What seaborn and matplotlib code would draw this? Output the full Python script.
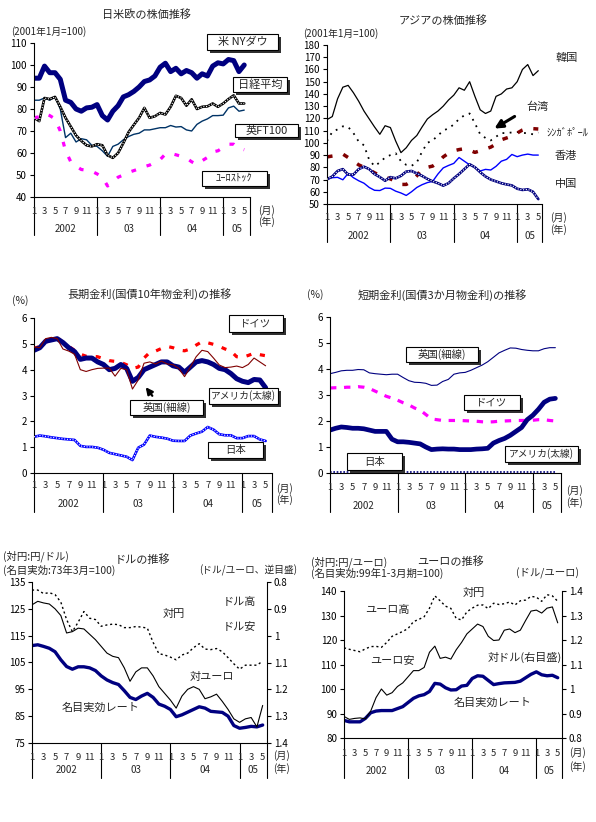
import numpy as np
import pandas as pd
import seaborn as sns
import matplotlib.pyplot as plt
import matplotlib.patches as mpatches

sns.set_style("white")
plt.rcParams['font.family'] = ['Noto Sans CJK JP', 'DejaVu Sans']
plt.rcParams['axes.unicode_minus'] = False

W, H = 596, 822
NAVY = '#000080'

# --- x axis: monthly, Jan 2002 = 0
months = list(range(41))
month_labels = ['1', '3', '5', '7', '9', '11']
month_labels_05 = ['1', '3', '5']
year_labels = ['2002', '03', '04', '05']

# --- stocks: US/Japan/Europe (2001/1 = 100)
dow = [94, 94, 99.5, 96.5, 96.5, 93.5, 84, 83, 80, 79, 80.5, 80.8, 82, 77, 75, 79, 81.5, 85.5,
       86.5, 88, 90, 92.5, 93.2, 95, 99, 100.8, 97, 98.5, 96, 97.5, 96.5, 94, 96, 95, 99.5,
       101, 100.5, 102.5, 102, 97, 100]
nikkei = [76, 74.5, 85, 84.5, 85.5, 81, 76, 72, 68, 65.5, 63.5, 63, 64, 63.5, 59, 57.8, 60, 64.5,
          69.5, 72.8, 76, 80.5, 76, 76.7, 78.2, 77.5, 81, 86, 85, 81.5, 84.4, 80, 81, 81.2, 82.5,
          81, 82.5, 84.5, 86.2, 82.5, 82.5]
ft100 = [84, 84, 85, 84, 85.5, 80, 67, 69, 65, 66.5, 66, 63.5, 63, 61, 58.5, 63, 64, 66, 67.5,
         68.5, 69, 70.5, 70.5, 71, 71.5, 71.5, 72.5, 71.8, 72, 70.5, 70, 73, 74.5, 75.5, 77, 77,
         77.2, 80.5, 81.3, 79, 79.5]
eurostoxx = [76, 76.5, 78, 77, 75.5, 70, 61, 56, 54, 52.5, 52.2, 51.7, 50.5, 49, 45, 47, 49, 50,
             51.2, 52, 52.8, 53.8, 54.5, 55.8, 57, 59.5, 59.8, 59.2, 58.5, 57.7, 56, 54.8, 56.5,
             58, 60.5, 61, 62.5, 64, 64, 62, 61.5]

# --- stocks: Asia (2001/1 = 100)
korea = [119, 121.5, 136, 145.5, 147, 141, 134, 126, 119.5, 113, 107, 114, 112.5, 101.5, 92, 96,
         102, 106, 113, 119.5, 123, 126, 130, 135, 139, 145, 143, 150, 138, 127, 124, 126, 138,
         140, 144, 145, 150, 160, 164, 155, 159]
taiwan = [101.5, 109, 111, 113.5, 113, 108, 101, 98, 86, 81, 84, 88, 90, 91.5, 85, 82, 81.2, 84,
          92.8, 100, 102, 106, 110, 111.9, 115, 119.5, 122.5, 124, 116, 107, 104, 102, 105, 108,
          108, 108.5, 108.8, 108.2, 107.8, 107, 108.5]
singapore = [88.5, 89.2, 89.8, 90.8, 88, 85, 82, 80, 78, 75.5, 73.5, 72, 70.5, 68.5, 66, 66, 68.5,
             73, 79, 80, 81, 84, 88.5, 91.5, 93.5, 94.5, 95.2, 94, 92.2, 93.5, 95, 96.5, 99,
             102.5, 104, 105.5, 108, 110.5, 112, 111.6, 111.3]
hongkong = [70.2, 71.5, 71.8, 69.8, 75, 71.5, 69, 67, 63.5, 61.2, 61, 63, 62.8, 60.5, 59, 57, 60,
            63.5, 65.8, 67.5, 68.5, 74.5, 79.5, 81.5, 83.2, 88, 85, 82, 80, 77, 78.3, 77.8, 80.8,
            85, 86.5, 90.5, 88.7, 90, 90.8, 90, 90]
china = [70.2, 72.5, 77, 78.5, 74, 74, 78.5, 80.5, 78.5, 74.5, 72, 69, 72, 71, 73, 76.5, 77, 75,
         73, 70.5, 68.5, 67, 65, 67, 71, 74.5, 78.5, 82.5, 80, 76, 72.5, 70, 68.5, 67, 66, 65.2,
         62.5, 61.5, 62, 60, 54]

# --- long-term rates (10y, %)
us_long = [4.75, 4.85, 5.1, 5.15, 5.2, 5.05, 4.85, 4.7, 4.4, 4.45, 4.45, 4.3, 4.2, 4.0, 4.05, 4.2,
           4.05, 3.55, 3.7, 4.0, 4.1, 4.2, 4.3, 4.3, 4.15, 4.1, 3.9, 4.1, 4.3, 4.35, 4.3, 4.2,
           4.05, 4.0, 3.85, 3.65, 3.55, 3.5, 3.62, 3.6, 3.3]
de_long = [4.82, 4.9, 5.05, 5.18, 5.25, 5.05, 4.9, 4.75, 4.6, 4.52, 4.52, 4.5, 4.42, 4.35, 4.32,
           4.28, 4.19, 4.05, 4.1, 4.45, 4.67, 4.72, 4.82, 4.9, 4.85, 4.76, 4.73, 4.8, 4.95, 5.08,
           5.04, 4.98, 4.9, 4.8, 4.72, 4.5, 4.48, 4.55, 4.64, 4.58, 4.54]
uk_long = [4.88, 4.85, 5.2, 5.25, 5.2, 4.8, 4.72, 4.6, 4.0, 3.93, 4.0, 4.05, 4.06, 4.06, 3.75,
           4.05, 4.0, 3.25, 3.6, 4.25, 4.3, 4.22, 4.33, 4.22, 4.19, 4.05, 3.73, 4.1, 4.5, 4.75,
           4.7, 4.45, 4.18, 4.08, 4.1, 4.14, 4.08, 4.2, 4.45, 4.3, 4.15]
jp_long = [1.4, 1.45, 1.42, 1.38, 1.35, 1.32, 1.3, 1.28, 1.05, 1.01, 1.01, 0.98, 0.9, 0.78, 0.73,
           0.68, 0.63, 0.5, 0.98, 1.1, 1.45, 1.4, 1.37, 1.33, 1.25, 1.24, 1.24, 1.45, 1.53, 1.6,
           1.78, 1.68, 1.5, 1.46, 1.46, 1.35, 1.35, 1.43, 1.43, 1.3, 1.24]

# --- short-term rates (3m, %)
uk_short = [3.82, 3.87, 3.93, 3.95, 3.95, 3.98, 3.97, 3.85, 3.82, 3.8, 3.78, 3.8, 3.8, 3.67, 3.55,
            3.49, 3.48, 3.45, 3.37, 3.38, 3.52, 3.6, 3.8, 3.85, 3.87, 3.95, 4.05, 4.15, 4.28,
            4.45, 4.62, 4.72, 4.81, 4.8, 4.75, 4.72, 4.7, 4.7, 4.78, 4.82, 4.82]
de_short = [3.27, 3.28, 3.28, 3.3, 3.3, 3.32, 3.3, 3.25, 3.15, 3.05, 2.95, 2.88, 2.8, 2.7, 2.62,
            2.5, 2.42, 2.25, 2.08, 2.05, 2.02, 2.02, 2.02, 2.02, 2.01, 2.0, 1.99, 1.97, 1.96,
            1.97, 1.99, 2.0, 2.01, 2.02, 2.02, 2.02, 2.03, 2.05, 2.05, 2.02, 2.0]
us_short = [1.65, 1.72, 1.77, 1.75, 1.72, 1.72, 1.7, 1.65, 1.6, 1.6, 1.6, 1.3, 1.2, 1.2, 1.18,
            1.15, 1.12, 1.0, 0.9, 0.92, 0.93, 0.92, 0.92, 0.9, 0.9, 0.9, 0.92, 0.93, 0.95, 1.15,
            1.25, 1.33, 1.45, 1.6, 1.75, 2.05, 2.22, 2.45, 2.72, 2.84, 2.87]
jp_short = [0.02, 0.02, 0.02, 0.02, 0.02, 0.02, 0.02, 0.02, 0.02, 0.02, 0.02, 0.02, 0.02, 0.02,
            0.02, 0.02, 0.02, 0.02, 0.02, 0.02, 0.02, 0.02, 0.02, 0.02, 0.02, 0.02, 0.02, 0.02,
            0.02, 0.02, 0.02, 0.02, 0.02, 0.02, 0.02, 0.02, 0.02, 0.02, 0.02, 0.02, 0.02]

# --- dollar
usd_jpy = [132, 132, 130.7, 131, 130.3, 127.5, 121, 116.5, 120, 124, 121.5, 121, 118.5, 119, 119.3,
           119.1, 118, 118, 118.4, 118.2, 117.8, 112.5, 108.3, 107.8, 107, 106, 107.8, 108.5,
           110.5, 112, 110, 109.8, 110.2, 109, 106.8, 104.5, 102.5, 104, 104, 104, 105.5]
usd_eur = [0.885, 0.872, 0.878, 0.882, 0.9, 0.925, 0.99, 0.985, 0.972, 0.975, 0.995, 1.015, 1.04,
           1.065, 1.077, 1.082, 1.12, 1.17, 1.135, 1.12, 1.12, 1.15, 1.19, 1.215, 1.24, 1.27,
           1.225, 1.2, 1.19, 1.2, 1.235, 1.228, 1.218, 1.245, 1.275, 1.31, 1.323, 1.31, 1.305,
           1.34, 1.26]
usd_neer = [111.3, 111.6, 111, 110.3, 109, 106, 103.5, 102.5, 103.4, 103.4, 103, 102, 100, 98.5,
            97.5, 96.8, 94.5, 92, 91.2, 92.5, 93.5, 92, 89.5, 88.7, 87.5, 84.8, 85.5, 86.5, 87.5,
            88.5, 88, 86.8, 86.6, 86.4, 85, 81.5, 80.5, 80.8, 81.2, 81, 81.7]

# --- euro
eur_jpy = [116.8, 116.2, 115.7, 115.2, 116.4, 117.3, 117.4, 117, 119, 121.5, 122.5, 123.5, 124.7,
           127.5, 128.4, 129.5, 133, 138, 136, 133.8, 132.9, 128.8, 128.2, 131.5, 133, 134.2,
           134.3, 132.8, 135, 134.5, 134.8, 135.5, 134.3, 136, 136.3, 137.8, 137.5, 135.8,
           138.5, 138, 135.8]
eur_usd = [0.888, 0.876, 0.88, 0.882, 0.878, 0.91, 0.965, 1.0, 0.975, 0.985, 1.01, 1.025, 1.05,
           1.075, 1.075, 1.088, 1.15, 1.175, 1.125, 1.13, 1.122, 1.16, 1.19, 1.225, 1.245, 1.265,
           1.255, 1.215, 1.198, 1.2, 1.24, 1.245, 1.23, 1.24, 1.28, 1.318, 1.322, 1.31, 1.33,
           1.335, 1.27]
eur_neer = [87.2, 86.6, 86.6, 86.6, 88, 90.3, 91, 91.2, 91.2, 91.2, 92, 92.8, 94.5, 96.2, 97.2,
            97.7, 99, 102.3, 102, 100.5, 99.6, 99.7, 101.2, 101.5, 104.3, 105.4, 105.2, 103.5,
            101.8, 102.2, 102.5, 102.6, 102.7, 103.2, 104.6, 106, 107, 105.8, 105.4, 105.6, 104.6]

right_ticks = [0.8, 0.9, 1.0, 1.1, 1.2, 1.3, 1.4]
right_tick_labels = ['0.8', '0.9', '1', '1.1', '1.2', '1.3', '1.4']

fig = plt.figure(figsize=(W / 100, H / 100), dpi=100)


def ftext(x, y, s, size=7, ha='left', va='center'):
    fig.text(x / W, 1 - y / H, s, fontsize=size, ha=ha, va=va, zorder=8)


def label_box(box, s, size=7.5):
    l, t, r, b = box
    sh = mpatches.Rectangle(((l + 3) / W, 1 - (b + 3) / H), (r - l) / W, (b - t) / H,
                            transform=fig.transFigure, fc='#303030', ec='none', zorder=5)
    bx = mpatches.Rectangle((l / W, 1 - b / H), (r - l) / W, (b - t) / H,
                            transform=fig.transFigure, fc='white', ec='black', lw=0.8, zorder=6)
    fig.add_artist(sh)
    fig.add_artist(bx)
    fig.text((l + r) / 2 / W, 1 - (t + b) / 2 / H, s, ha='center', va='center',
             fontsize=size, zorder=7)


def new_axes(box):
    l, t, r, b = box
    return fig.add_axes([l / W, 1 - b / H, (r - l) / W, (b - t) / H])


def style_axes(ax, xmax, ylim, yticks):
    ax.set_xlim(0, xmax)
    ax.set_ylim(*ylim)
    ax.set_yticks(yticks)
    ax.set_xticks([])
    ax.set_xlabel('')
    ax.set_ylabel('')
    sns.despine(ax=ax)
    for sp in ['left', 'bottom']:
        ax.spines[sp].set_color('black')
        ax.spines[sp].set_linewidth(0.8)
    ax.tick_params(axis='y', left=True, direction='out', length=3, width=0.8,
                   labelsize=7, pad=2, colors='black')


def month_axis(ax, box, xmax, m_off, y_off, sep, mo_y, ye_y, mo_x):
    l, t, r, b = box
    h = b - t
    tr = ax.get_xaxis_transform()
    ends = [12, 24, 36, xmax]
    for i, yl in enumerate(year_labels):
        start = 12 * i
        labs = month_labels if i < 3 else month_labels_05
        for j, ml in enumerate(labs):
            ax.text(start + 2 * j, -m_off / h, ml, transform=tr, ha='center', va='center',
                    fontsize=6.8)
        ax.text((start + ends[i]) / 2, -y_off / h, yl, transform=tr, ha='center',
                va='center', fontsize=7)
    for xs in [0] + ends:
        ax.plot([xs, xs], [0, -sep / h], transform=tr, clip_on=False, color='black', lw=0.8)
    ftext(r + mo_x, b + mo_y, '(月)', size=7.2)
    ftext(r + mo_x, b + ye_y, '(年)', size=7.2)


def line(ax, y, color, lw, ls='-', zorder=2):
    sns.lineplot(x=months, y=y, ax=ax, color=color, linewidth=lw, linestyle=ls,
                 errorbar=None, zorder=zorder)


def checkered(ax, y, color):
    line(ax, y, color, 1.9)
    line(ax, y, 'white', 0.8, (0, (1, 1.5)), zorder=3)


# ---------------- panel 1: US / Japan / Europe stocks
b1 = (34, 43, 250, 197)
ax1 = new_axes(b1)
line(ax1, ft100, '#003366', 1.0)
checkered(ax1, nikkei, 'black')
line(ax1, eurostoxx, '#ff00ff', 2.3, (0, (1.5, 3.5)))
line(ax1, dow, NAVY, 3.6)
style_axes(ax1, 41.1, (40, 110), range(40, 111, 10))
month_axis(ax1, b1, 41.1, 14, 32, 38, 14, 25, 8)
ftext(147, 15, '日米欧の株価推移', size=8, ha='center')
ftext(11, 32, '(2001年1月=100)', size=7)
label_box((207, 34, 278, 50), '米 NYダウ', size=8)
label_box((233, 77, 287, 92), '日経平均', size=8)
label_box((235, 124, 298, 137), '英FT100', size=8)
label_box((202, 171, 267, 186), 'ﾕｰﾛｽﾄｯｸ', size=7.5)

# ---------------- panel 2: Asian stocks
b2 = (327, 45, 542, 204)
ax2 = new_axes(b2)
line(ax2, korea, 'black', 0.9)
line(ax2, taiwan, 'black', 1.3, (0, (1, 3)))
line(ax2, singapore, '#800000', 2.5, (0, (1.6, 3.2)))
line(ax2, hongkong, '#0000ff', 1.0)
checkered(ax2, china, NAVY)
style_axes(ax2, 40.7, (50, 180), range(50, 181, 10))
month_axis(ax2, b2, 40.7, 13, 32, 38, 14, 26, 8)
ftext(443, 21, 'アジアの株価推移', size=8, ha='center')
ftext(303, 34, '(2001年1月=100)', size=7)
ftext(556, 58, '韓国', size=8)
ftext(526, 107, '台湾', size=8)
ftext(547, 133, 'ｼﾝｶﾞﾎﾟｰﾙ', size=7.5)
ftext(555, 156, '香港', size=8)
ftext(555, 184, '中国', size=8)
ax2.annotate('', xy=(492, H - 130), xytext=(517, H - 115), xycoords='figure pixels',
             textcoords='figure pixels',
             arrowprops=dict(arrowstyle='-|>', lw=2.2, color='black', mutation_scale=12))

# ---------------- panel 3: long-term rates
b3 = (34, 318, 272, 473)
ax3 = new_axes(b3)
checkered(ax3, jp_long, '#0000ff')
line(ax3, de_long, '#ff0000', 2.3, (0, (1.6, 2.8)))
line(ax3, us_long, NAVY, 3.6)
line(ax3, uk_long, '#800000', 0.8, zorder=4)
style_axes(ax3, 41.1, (0, 6), range(0, 7))
month_axis(ax3, b3, 41.1, 12, 31, 39, 16, 27, 4)
ftext(150, 294, '長期金利(国債10年物金利)の推移', size=8, ha='center')
ftext(12, 301, '(%)', size=7.5)
label_box((229, 315, 283, 332), 'ドイツ')
label_box((209, 388, 278, 404), 'アメリカ(太線)', size=7)
label_box((130, 400, 203, 415), '英国(細線)')
label_box((208, 442, 263, 458), '日本')
ax3.annotate('', xy=(144, H - 385), xytext=(154, H - 398), xycoords='figure pixels',
             textcoords='figure pixels',
             arrowprops=dict(arrowstyle='-|>', lw=1.6, color='black', mutation_scale=10))

# ---------------- panel 4: short-term rates
b4 = (330, 317, 561, 473)
ax4 = new_axes(b4)
line(ax4, uk_short, NAVY, 0.8)
line(ax4, de_short, '#ff00ff', 2.3, (0, (2, 2.4)))
line(ax4, us_short, NAVY, 3.4)
line(ax4, jp_short, NAVY, 1.2, (0, (1, 1)))
style_axes(ax4, 41.0, (0, 6), range(0, 7))
month_axis(ax4, b4, 41.0, 14, 33, 39, 18, 30, 5)
ftext(442, 295, '短期金利(国債3か月物金利)の推移', size=8, ha='center')
ftext(307, 295, '(%)', size=7.5)
label_box((406, 347, 478, 362), '英国(細線)')
label_box((464, 395, 520, 410), 'ドイツ')
label_box((505, 446, 578, 462), 'アメリカ(太線)', size=7)
label_box((347, 453, 402, 470), '日本')

# ---------------- panel 5: dollar
b5 = (32, 582, 267, 743)
ax5 = new_axes(b5)
line(ax5, usd_jpy, 'black', 1.0, (0, (1.5, 2)))
line(ax5, usd_neer, NAVY, 2.4)
style_axes(ax5, 40.75, (75, 135), range(75, 136, 10))
ax5r = ax5.twinx()
line(ax5r, usd_eur, 'black', 0.8)
ax5r.set_ylim(1.4, 0.8)
ax5r.set_yticks(right_ticks)
ax5r.set_yticklabels(right_tick_labels)
ax5r.set_xlim(0, 40.75)
ax5r.set_ylabel('')
for sp in ['left', 'top', 'bottom']:
    ax5r.spines[sp].set_visible(False)
ax5r.spines['right'].set_visible(True)
ax5r.spines['right'].set_color('black')
ax5r.spines['right'].set_linewidth(0.8)
ax5r.tick_params(axis='y', right=True, direction='out', length=3, width=0.8,
                 labelsize=7, pad=2, colors='black')
month_axis(ax5, b5, 40.75, 14, 27, 35, 13, 26, 6)
ftext(3, 556, '(対円:円/ドル)', size=7.5)
ftext(3, 570, '(名目実効:73年3月=100)', size=7.5)
ftext(115, 560, 'ドルの推移', size=8)
ftext(199, 570, '(ドル/ユーロ、逆目盛)', size=7)
ftext(223, 602, 'ドル高', size=8)
ftext(163, 614, '対円', size=8)
ftext(223, 627, 'ドル安', size=8)
ftext(190, 677, '対ユーロ', size=8)
ftext(62, 708, '名目実効レート', size=8)

# ---------------- panel 6: euro
b6 = (344, 591, 562, 738)
ax6 = new_axes(b6)
line(ax6, eur_jpy, 'black', 1.0, (0, (1.5, 2)))
line(ax6, eur_neer, NAVY, 2.4)
style_axes(ax6, 40.8, (80, 140), range(80, 141, 10))
ax6r = ax6.twinx()
line(ax6r, eur_usd, 'black', 0.8)
ax6r.set_ylim(0.8, 1.4)
ax6r.set_yticks(right_ticks)
ax6r.set_yticklabels(right_tick_labels)
ax6r.set_xlim(0, 40.8)
ax6r.set_ylabel('')
for sp in ['left', 'top', 'bottom']:
    ax6r.spines[sp].set_visible(False)
ax6r.spines['right'].set_visible(True)
ax6r.spines['right'].set_color('black')
ax6r.spines['right'].set_linewidth(0.8)
ax6r.tick_params(axis='y', right=True, direction='out', length=3, width=0.8,
                 labelsize=7, pad=2, colors='black')
month_axis(ax6, b6, 40.8, 15, 33, 40, 15, 29, 7)
ftext(311, 562, '(対円:円/ユーロ)', size=7.5)
ftext(417, 562, 'ユーロの推移', size=8)
ftext(311, 573, '(名目実効:99年1-3月期=100)', size=7.5)
ftext(516, 573, '(ドル/ユーロ)', size=7.5)
ftext(463, 593, '対円', size=8)
ftext(365, 610, 'ユーロ高', size=8)
ftext(370, 661, 'ユーロ安', size=8)
ftext(488, 657, '対ドル(右目盛)', size=8)
ftext(454, 703, '名目実効レート', size=8)

fig.savefig('out.png', dpi=100)
